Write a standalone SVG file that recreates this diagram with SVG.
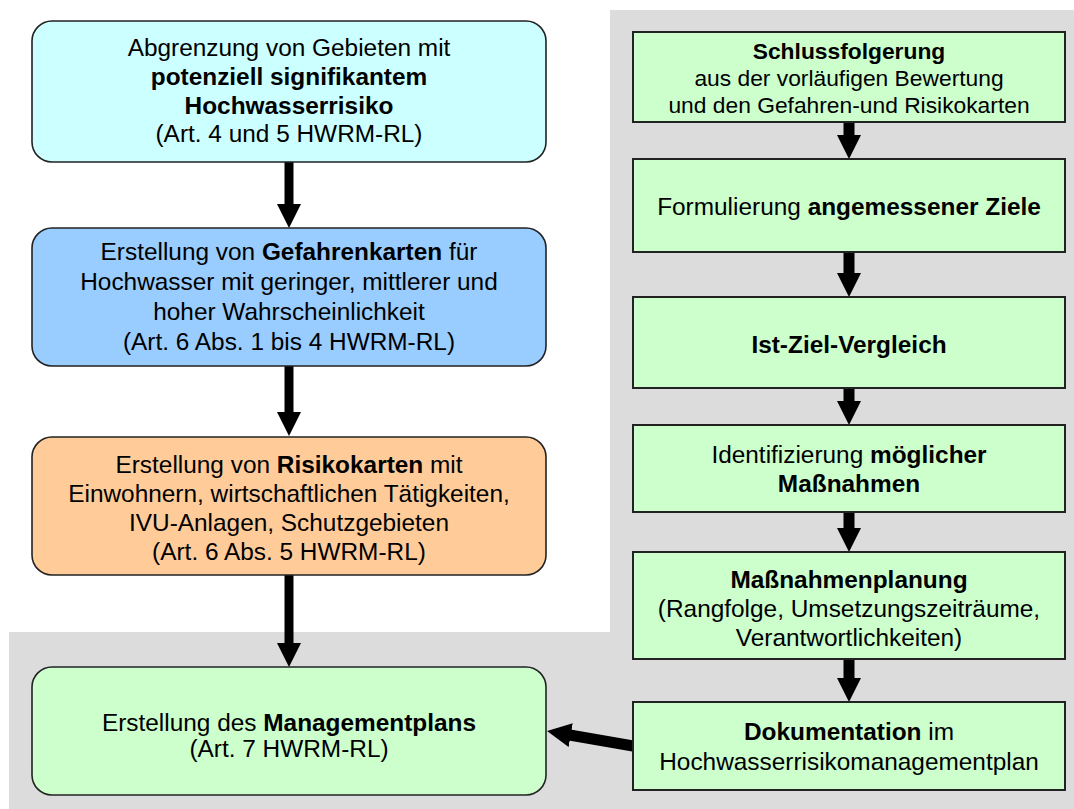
<svg xmlns="http://www.w3.org/2000/svg" width="1074" height="809" viewBox="0 0 1074 809">
<style>
text{font-family:"Liberation Sans",Arial,sans-serif;font-size:24.4px;fill:#000;text-anchor:middle}
.b{font-weight:bold}
.s{font-size:22.8px}
.rbox{stroke:#222;stroke-width:2}
.lbox{stroke:#222;stroke-width:1.6}
.con{stroke:#000;fill:none}
</style>
<defs>
<marker id="ah" markerUnits="userSpaceOnUse" markerWidth="24" markerHeight="24" viewBox="0 0 24 24" refX="1" refY="12" orient="auto">
<path d="M0,0 L24,12 L0,24 Z" fill="#000"/>
</marker>
</defs>
<path d="M610,10 H1074 V809 H9 V632 H610 Z" fill="#dcdcdc"/>
<g id="connectors">
<line class="con" x1="289" y1="162" x2="289" y2="205" stroke-width="9" marker-end="url(#ah)"/>
<line class="con" x1="289" y1="366" x2="289" y2="413" stroke-width="9" marker-end="url(#ah)"/>
<line class="con" x1="289" y1="575" x2="289" y2="644" stroke-width="9" marker-end="url(#ah)"/>
<line class="con" x1="849" y1="122" x2="849" y2="136" stroke-width="11" marker-end="url(#ah)"/>
<line class="con" x1="849" y1="252" x2="849" y2="274" stroke-width="11" marker-end="url(#ah)"/>
<line class="con" x1="849" y1="388" x2="849" y2="402" stroke-width="11" marker-end="url(#ah)"/>
<line class="con" x1="849" y1="512" x2="849" y2="529" stroke-width="11" marker-end="url(#ah)"/>
<line class="con" x1="849" y1="659" x2="849" y2="679" stroke-width="11" marker-end="url(#ah)"/>
<line class="con" x1="633" y1="746" x2="569.7" y2="735" stroke-width="11" marker-end="url(#ah)"/>
</g>
<g id="nodeA">
<rect class="lbox" x="32" y="21" width="514" height="141" rx="20" fill="#ccffff"/>
<text x="289" y="56">Abgrenzung von Gebieten mit</text>
<text x="289" y="85" class="b">potenziell signifikantem</text>
<text x="289" y="114" class="b">Hochwasserrisiko</text>
<text x="289" y="142">(Art. 4 und 5 HWRM-RL)</text>
</g>
<g id="nodeB">
<rect class="lbox" x="32" y="228" width="514" height="138" rx="20" fill="#99ccff"/>
<text x="289" y="260">Erstellung von <tspan class="b">Gefahrenkarten</tspan> für</text>
<text x="289" y="290">Hochwasser mit geringer, mittlerer und</text>
<text x="289" y="320">hoher Wahrscheinlichkeit</text>
<text x="289" y="350">(Art. 6 Abs. 1 bis 4 HWRM-RL)</text>
</g>
<g id="nodeC">
<rect class="lbox" x="32" y="437" width="514" height="138" rx="20" fill="#ffcc99"/>
<text x="289" y="473">Erstellung von <tspan class="b">Risikokarten</tspan> mit</text>
<text x="289" y="502">Einwohnern, wirtschaftlichen Tätigkeiten,</text>
<text x="289" y="531">IVU-Anlagen, Schutzgebieten</text>
<text x="289" y="560">(Art. 6 Abs. 5 HWRM-RL)</text>
</g>
<g id="nodeD">
<rect class="lbox" x="32" y="667" width="514" height="128" rx="20" fill="#ccffcc"/>
<text x="289" y="731">Erstellung des <tspan class="b">Managementplans</tspan></text>
<text x="289" y="757">(Art. 7 HWRM-RL)</text>
</g>
<g id="nodeR1">
<rect class="rbox" x="633" y="32" width="432" height="90" fill="#ccffcc"/>
<text x="849" y="59" class="b s">Schlussfolgerung</text>
<text x="849" y="86" class="s">aus der vorläufigen Bewertung</text>
<text x="849" y="113" class="s">und den Gefahren-und Risikokarten</text>
</g>
<g id="nodeR2">
<rect class="rbox" x="633" y="159" width="432" height="93" fill="#ccffcc"/>
<text x="849" y="215">Formulierung <tspan class="b">angemessener Ziele</tspan></text>
</g>
<g id="nodeR3">
<rect class="rbox" x="633" y="297" width="432" height="91" fill="#ccffcc"/>
<text x="849" y="353" class="b">Ist-Ziel-Vergleich</text>
</g>
<g id="nodeR4">
<rect class="rbox" x="633" y="425" width="432" height="87" fill="#ccffcc"/>
<text x="849" y="463">Identifizierung <tspan class="b">möglicher</tspan></text>
<text x="849" y="492" class="b">Maßnahmen</text>
</g>
<g id="nodeR5">
<rect class="rbox" x="633" y="552" width="432" height="107" fill="#ccffcc"/>
<text x="849" y="588" class="b">Maßnahmenplanung</text>
<text x="849" y="617">(Rangfolge, Umsetzungszeiträume,</text>
<text x="849" y="646">Verantwortlichkeiten)</text>
</g>
<g id="nodeR6">
<rect class="rbox" x="633" y="702" width="432" height="88" fill="#ccffcc"/>
<text x="849" y="740"><tspan class="b">Dokumentation</tspan> im</text>
<text x="849" y="770">Hochwasserrisikomanagementplan</text>
</g>
</svg>
